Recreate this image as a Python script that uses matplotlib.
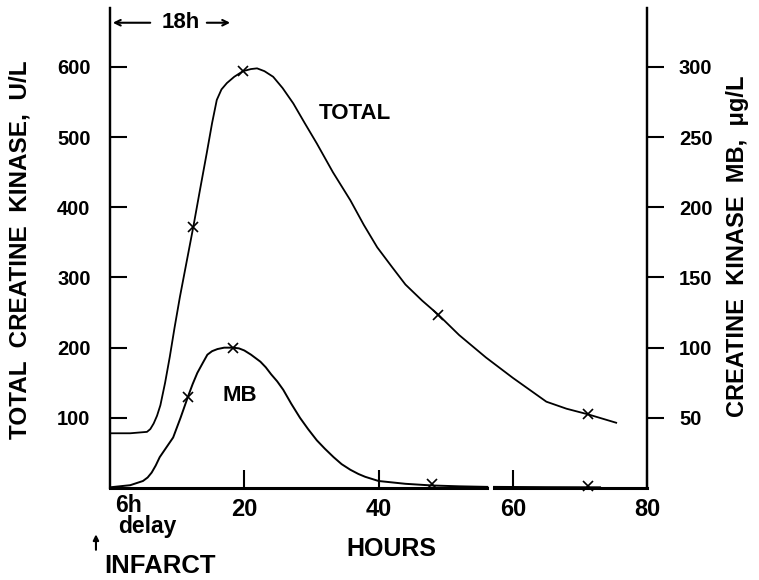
import numpy as np
import matplotlib
matplotlib.use("Agg")
import matplotlib.pyplot as plt

plt.rcParams['font.family'] = ['Liberation Sans', 'DejaVu Sans']
plt.rcParams['font.weight'] = 'bold'

# total creatine kinase (U/L)
total_h = [0, 3, 5.5, 6, 6.5, 7, 7.5, 8.2, 8.9, 9.6, 10.4, 11.4, 12.4, 13.4,
           14.4, 15.2, 15.9, 16.6, 17.4, 18.5, 19.8, 21, 21.9, 23, 24.3, 25.7,
           27.3, 29, 30.8, 33.2, 35.8, 37.8, 39.8, 42, 44, 46.5, 48.9, 52, 56,
           60, 65, 68, 71.2, 75.4]
total_val = [78, 78, 80, 84, 92, 103, 118, 150, 187, 228, 272, 322, 372, 425,
             477, 520, 553, 568, 577, 586, 594, 597, 598, 594, 586, 570,
             548, 520, 491, 450, 410, 375, 343, 315, 290, 267, 247, 218, 186,
             157, 123, 113, 105, 93]
total_mark_h = [12.4, 19.8, 48.9, 71.2]
total_mark_val = [372, 594, 247, 105]

# creatine kinase MB (ug/L), nan = break in the trace
mb_h = [0, 3, 4.9, 5.6, 6.2, 6.8, 7.4, 8.4, 9.4, 10.5, 11.6, 12.3, 13, 13.8,
        14.5, 15.2, 16, 17, 18.3, 19.2, 20, 21, 22.4, 23.2, 24, 24.9, 25.8,
        27, 28.3, 29.5, 30.8, 32, 33.3, 34.5, 35.8, 37, 38, 40, 42, 44, 48,
        52, 56.2, np.nan, 57.2, 65, 73]
mb_val = [0.5, 2, 5, 7.5, 11, 16, 22, 29, 36, 50, 65, 74, 82, 89,
          95, 97.5, 99, 100, 100, 99.5, 98, 95, 90, 86, 81, 76, 70,
          60, 50, 42, 34, 28, 22, 17, 13, 10, 8, 5, 4, 3, 1.8,
          1.2, 0.8, np.nan, 0.8, 0.6, 0.5]
mb_mark_h = [11.6, 18.3, 48, 71.2]
mb_mark_val = [65, 100, 3, 1.5]

left_ticks = [100, 200, 300, 400, 500, 600]
right_ticks = [50, 100, 150, 200, 250, 300]
x_ticks = [20, 40, 60, 80]

fig = plt.figure(figsize=(7.59, 5.8), dpi=100)
ax = fig.add_axes([0.145, 0.1586, 0.7075, 0.8276])
ax2 = ax.twinx()

ax.plot(total_h, total_val, color='black', lw=1.3)
ax.plot(total_mark_h, total_mark_val, 'x', color='black', ms=7, mew=1.2)
ax2.plot(mb_h, mb_val, color='black', lw=1.4, clip_on=False)
ax2.plot(mb_mark_h, mb_mark_val, 'x', color='black', ms=7, mew=1.2, clip_on=False)

ax.set_xlim(0, 80)
ax.set_ylim(0, 684)
ax2.set_ylim(0, 342)

for a in (ax, ax2):
    a.spines['top'].set_visible(False)
    a.spines['bottom'].set_visible(False)
    for s in ('left', 'right'):
        a.spines[s].set_linewidth(1.6)

# bottom axis line drawn with the small break near 56 h
ax.axhline(0, xmin=0, xmax=56.2 / 80, color='black', lw=2.2, clip_on=False)
ax.axhline(0, xmin=57.2 / 80, xmax=1, color='black', lw=2.2, clip_on=False)

ax.set_yticks(left_ticks)
ax.tick_params(axis='y', direction='in', length=12, width=1.5, pad=14,
               labelsize=14.5)
ax2.set_yticks(right_ticks)
ax2.tick_params(axis='y', direction='out', length=12, width=1.5, pad=11,
                labelsize=14.5)
ax.set_xticks(x_ticks)
ax.set_xticklabels([str(t) for t in x_ticks])
ax.tick_params(axis='x', direction='in', length=13, width=1.5, pad=7,
               labelsize=17)

ax.set_ylabel('TOTAL  CREATINE  KINASE,  U/L', fontsize=17.5, fontweight='bold')
ax.yaxis.set_label_coords(-0.147, 0.496)
ax2.set_ylabel('CREATINE  KINASE  MB,  \u03bcg/L', fontsize=17,
               fontweight='bold', rotation=90)
ax2.yaxis.set_label_coords(1.147, 0.504)

ax.text(36.5, 534, 'TOTAL', fontsize=16, ha='center', va='center')
ax.text(19.4, 132, 'MB', fontsize=16, ha='center', va='center')

# 18h bracket at the top
ax.text(10.6, 663, '18h', fontsize=16, ha='center', va='center')
ax.annotate('', xy=(0, 663), xytext=(6.4, 663),
            arrowprops=dict(arrowstyle='->', color='black', lw=1.5))
ax.annotate('', xy=(18.3, 663), xytext=(14.0, 663),
            arrowprops=dict(arrowstyle='->', color='black', lw=1.5))

# labels under the axis
ax.text(2.7, -34, '6h', fontsize=16.5, ha='center', va='baseline', clip_on=False)
ax.text(5.6, -64, 'delay', fontsize=16.5, ha='center', va='baseline',
        clip_on=False)
ax.annotate('', xy=(-2.1, -62), xytext=(-2.1, -92),
            arrowprops=dict(arrowstyle='-|>', color='black', lw=1.5,
                            mutation_scale=8), annotation_clip=False)
ax.text(7.45, -121, 'INFARCT', fontsize=18.5, ha='center', va='baseline',
        clip_on=False)
ax.text(41.9, -87, 'HOURS', fontsize=18, ha='center', va='center',
        clip_on=False)

fig.savefig('out.png', dpi=100)
